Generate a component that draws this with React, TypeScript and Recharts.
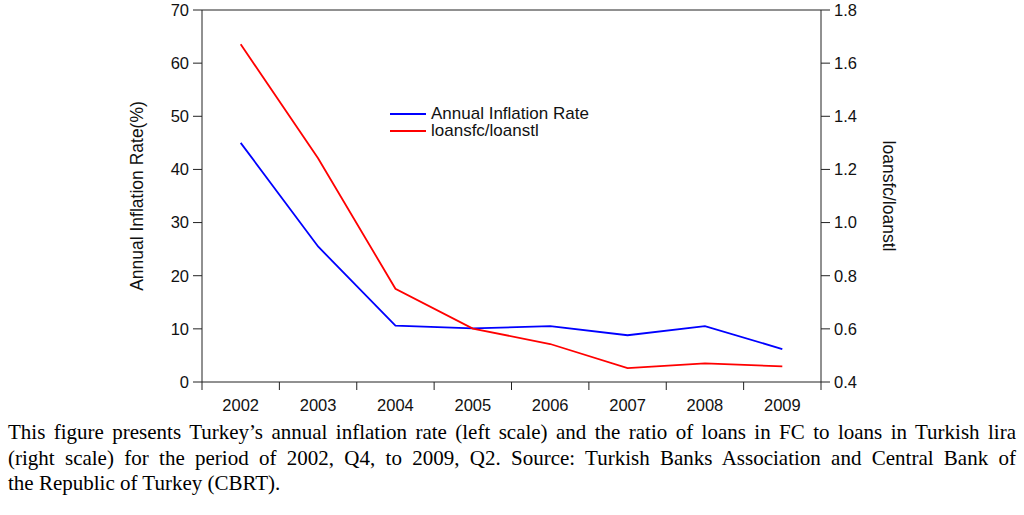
import { LineChart, Line, XAxis, YAxis, Legend, ReferenceLine } from 'recharts';

// years are drawn between the tick marks, so each point sits at index + 0.5
const years = ['2002', '2003', '2004', '2005', '2006', '2007', '2008', '2009'];
const inflation = [45.0, 25.5, 10.6, 10.1, 10.5, 8.8, 10.5, 6.2];
const loanRatio = [1.671, 1.242, 0.751, 0.601, 0.543, 0.452, 0.47, 0.459];

const leftTicks = [0, 10, 20, 30, 40, 50, 60, 70];
const rightTicks = [0.4, 0.6, 0.8, 1.0, 1.2, 1.4, 1.6, 1.8];
const boundaryTicks = [0, 1, 2, 3, 4, 5, 6, 7, 8];
const centerTicks = [0.5, 1.5, 2.5, 3.5, 4.5, 5.5, 6.5, 7.5];

const data = years.map((year, i) => ({
  x: i + 0.5,
  year,
  inflation: inflation[i],
  ratio: loanRatio[i],
}));

const AXIS = '#222';
const SANS = '"Liberation Sans", Arial, Helvetica, sans-serif';
const tickStyle = { fontSize: 16.5, fill: '#111', fontFamily: SANS };
const labelStyle = { textAnchor: 'middle', fontSize: 17.5, fill: '#111', fontFamily: SANS };

const LegendBox = ({ payload }: any) => (
  <div style={{ fontFamily: SANS, fontSize: 17, color: '#111', lineHeight: '17px' }}>
    {(payload || []).map((p: any) => (
      <div key={p.value} style={{ display: 'flex', alignItems: 'center', height: 17 }}>
        <svg width={36} height={4} style={{ marginRight: 5 }}>
          <line x1={0} y1={2} x2={36} y2={2} stroke={p.color} strokeWidth={2} />
        </svg>
        <span>{p.value}</span>
      </div>
    ))}
  </div>
);

export default function App() {
  return (
    <div style={{ position: 'absolute', top: 0, left: 0, width: 1024, height: 515, background: '#fff' }}>
      <LineChart
        width={1024}
        height={420}
        data={data}
        margin={{ top: 10, right: 113, bottom: 8, left: 120 }}
      >
        <XAxis
          type="number"
          dataKey="x"
          domain={[0, 8]}
          ticks={boundaryTicks}
          tickFormatter={() => ''}
          tickSize={8}
          height={8}
          stroke={AXIS}
          interval={0}
        />
        <XAxis
          xAxisId="years"
          type="number"
          dataKey="x"
          domain={[0, 8]}
          ticks={centerTicks}
          tickFormatter={(v: number) => years[Math.floor(v)]}
          axisLine={false}
          tickLine={false}
          tickSize={0}
          tickMargin={9}
          height={22}
          tick={tickStyle}
          interval={0}
        />
        <YAxis
          yAxisId="left"
          domain={[0, 70]}
          ticks={leftTicks}
          tickSize={9}
          tickMargin={4}
          width={82}
          stroke={AXIS}
          tick={tickStyle}
          interval={0}
          label={{
            value: 'Annual Inflation Rate(%)',
            angle: -90,
            position: 'insideLeft',
            offset: 17,
            style: labelStyle,
          }}
        />
        <YAxis
          yAxisId="right"
          orientation="right"
          domain={[0.4, 1.8]}
          ticks={rightTicks}
          tickFormatter={(v: number) => v.toFixed(1)}
          tickSize={9}
          tickMargin={4}
          width={90}
          stroke={AXIS}
          tick={tickStyle}
          interval={0}
          label={{
            value: 'loansfc/loanstl',
            angle: 90,
            position: 'insideRight',
            offset: 22,
            style: labelStyle,
          }}
        />
        <ReferenceLine yAxisId="left" y={70} stroke={AXIS} strokeWidth={1} />
        <Legend
          layout="horizontal"
          verticalAlign="middle"
          align="center"
          content={<LegendBox />}
          wrapperStyle={{ left: 390, top: 105, width: 240 }}
        />
        <Line
          yAxisId="left"
          dataKey="inflation"
          name="Annual Inflation Rate"
          type="linear"
          stroke="#0000ff"
          strokeWidth={1.8}
          dot={false}
          isAnimationActive={false}
        />
        <Line
          yAxisId="right"
          dataKey="ratio"
          name="loansfc/loanstl"
          type="linear"
          stroke="#ff0000"
          strokeWidth={1.8}
          dot={false}
          isAnimationActive={false}
        />
      </LineChart>
      <div
        style={{
          position: 'absolute',
          top: 420,
          left: 8,
          width: 1008,
          fontFamily: '"Liberation Serif", "Times New Roman", serif',
          fontSize: 21,
          lineHeight: '25.7px',
          color: '#000',
        }}
      >
        <div style={{ textAlign: 'justify', textAlignLast: 'justify' }}>
          This figure presents Turkey’s annual inflation rate (left scale) and the ratio of loans in FC to loans in Turkish lira
        </div>
        <div style={{ textAlign: 'justify', textAlignLast: 'justify' }}>
          (right scale) for the period of 2002, Q4, to 2009, Q2.  Source: Turkish Banks Association and Central Bank of
        </div>
        <div>the Republic of Turkey (CBRT).</div>
      </div>
    </div>
  );
}
